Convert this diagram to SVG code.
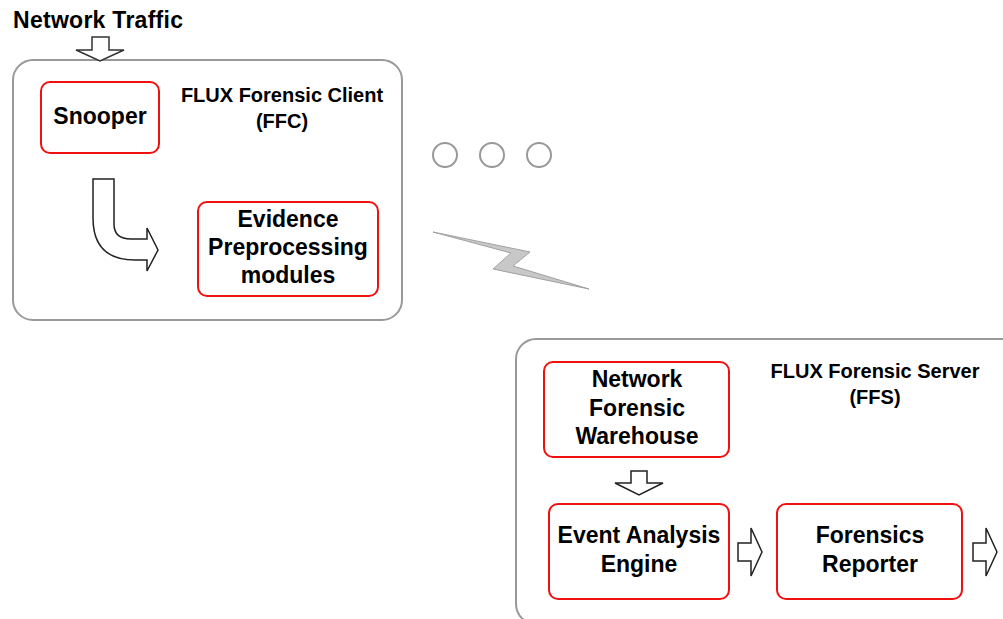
<svg xmlns="http://www.w3.org/2000/svg" width="1003" height="619" viewBox="0 0 1003 619">
<style>
.cont{fill:#fff;stroke:#999;stroke-width:2}
.box{fill:#fff;stroke:#f01010;stroke-width:2}
.t{font-family:"Liberation Sans",Arial,sans-serif;font-weight:bold;fill:#000;text-anchor:middle}
.big{font-size:23px}
.lbl{font-size:20px}
.arr{fill:#fff;stroke:#222;stroke-width:1.5;stroke-linejoin:miter}
.dot{fill:#fff;stroke:#999;stroke-width:2}
</style>
<rect width="1003" height="619" fill="#fff"/>
<g id="client">
<rect class="cont" x="13" y="60" width="389" height="260" rx="20"/>
<text class="t lbl" x="282" y="102">FLUX Forensic Client</text>
<text class="t lbl" x="282" y="128">(FFC)</text>
</g>
<g id="server">
<rect class="cont" x="516" y="339" width="520" height="285" rx="20"/>
<text class="t lbl" x="875" y="378">FLUX Forensic Server</text>
<text class="t lbl" x="875" y="404">(FFS)</text>
</g>
<g id="network-traffic">
<text class="t big" x="13" y="28" style="text-anchor:start" textLength="170">Network Traffic</text>
</g>
<g id="snooper">
<rect class="box" x="41" y="82" width="118" height="71" rx="9"/>
<text class="t big" x="100" y="124">Snooper</text>
</g>
<g id="evidence">
<rect class="box" x="198" y="202" width="180" height="94" rx="9"/>
<text class="t big" x="288" y="227">Evidence</text>
<text class="t big" x="288" y="255">Preprocessing</text>
<text class="t big" x="288" y="283">modules</text>
</g>
<g id="warehouse">
<rect class="box" x="544" y="362" width="185" height="95" rx="9"/>
<text class="t big" x="637" y="387">Network</text>
<text class="t big" x="637" y="416">Forensic</text>
<text class="t big" x="637" y="444">Warehouse</text>
</g>
<g id="event-engine">
<rect class="box" x="549" y="504" width="180" height="95" rx="9"/>
<text class="t big" x="639" y="543">Event Analysis</text>
<text class="t big" x="639" y="572">Engine</text>
</g>
<g id="reporter">
<rect class="box" x="777" y="504" width="185" height="95" rx="9"/>
<text class="t big" x="870" y="543">Forensics</text>
<text class="t big" x="870" y="572">Reporter</text>
</g>
<g id="ellipsis">
<circle class="dot" cx="445" cy="155" r="12"/>
<circle class="dot" cx="492" cy="155" r="12"/>
<circle class="dot" cx="539" cy="155" r="12"/>
</g>
<g id="connectors">
<polygon class="arr" style="stroke:#333" points="92,37 109,37 109,50 124,50 100,61 76,50 92,50"/>
<path class="arr" d="M93,179 L114,179 L114,224 Q114,239 131,239 L147,239 L147,228 L158,250 L147,271 L147,260 L135,260 Q93,260 93,218 Z"/>
<polygon points="433,232 530,252 513,266 589,289 493,269 511,253" fill="#c8c8c8" stroke="#a0a0a0" stroke-width="1"/>
<polygon class="arr" points="631,471 647,471 647,483 663,483 639,495 615,483 631,483"/>
<polygon class="arr" points="738,543 751,543 751,528 762,552 751,576 751,561 738,561"/>
<polygon class="arr" points="973,543 986,543 986,528 997,552 986,576 986,561 973,561"/>
</g>
</svg>
